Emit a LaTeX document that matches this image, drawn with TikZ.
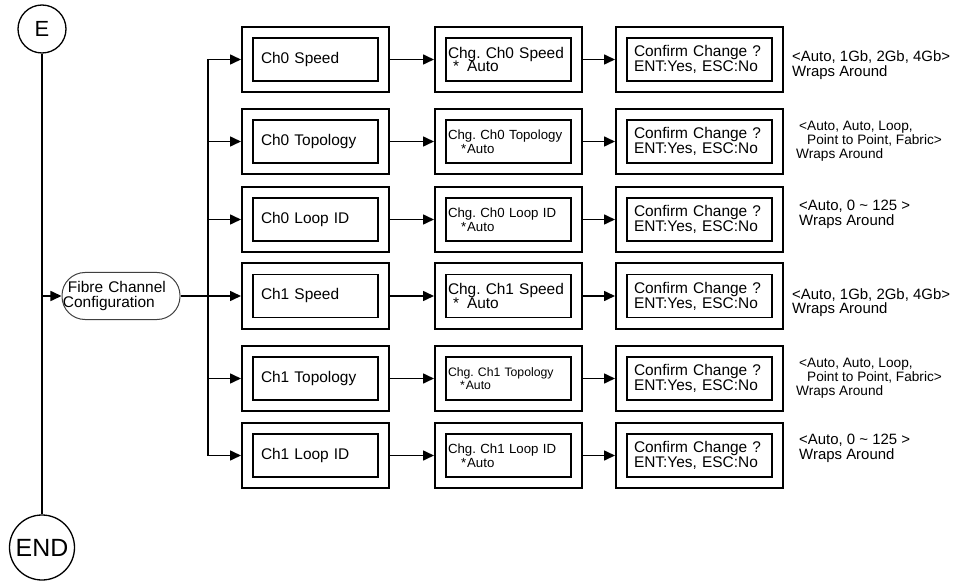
\documentclass[tikz,border=0pt]{standalone}
\usepackage{fontspec}
\setmainfont{Liberation Sans}
\usetikzlibrary{arrows.meta}
\newcommand\fsz[2]{\fontsize{#1}{#2}\selectfont}
\frenchspacing
\begin{document}
\frenchspacing
\begin{tikzpicture}[x=1bp,y=-1bp,
  lcd/.style={draw, line width=1.9bp, double, double distance=9.2bp, fill=white,
    minimum height=54bp, inner ysep=0bp, outer sep=6.5bp, align=left},
  boxa/.style={lcd, text width=109bp, inner xsep=13.5bp, font=\fsz{15.5}{14}},
  boxb/.style={lcd, text width=121bp, inner xsep=7.5bp, font=\fsz{15.5}{14}},
  boxc/.style={lcd, text width=131bp, inner xsep=12.5bp, font=\fsz{15.5}{14}},
  note/.style={anchor=west, align=left, inner sep=0bp},
  conn/.style={line width=1.6bp},
  arr/.style={conn, -{Triangle[length=11bp,width=10bp]}},
  term/.style={draw, circle, line width=1.3bp, inner sep=0bp}
]
\path[use as bounding box] (0,0) rectangle (965,581);

% terminals
\node[term, minimum size=48bp, font=\fsz{22}{22}] (E) at (42,29) {E};
\node[term, minimum size=65bp, font=\fsz{25}{25}] (END) at (42,547.5) {END};

% fibre channel node
\node[draw=black!75, line width=1bp, rounded corners=23bp, minimum width=118bp,
  minimum height=47bp, text width=116bp, inner xsep=1bp, inner ysep=0bp, align=left,
  font=\fsz{15.5}{15.5}] (fc) at (121,296) {\hspace*{5bp}Fibre Channel\\Configuration};

% column 1
\node[boxa] (a1) at (315.5,59.5) {Ch0 Speed};
\node[boxa] (a2) at (315.5,141.5) {Ch0 Topology};
\node[boxa] (a3) at (315.5,219.5) {Ch0 Loop ID};
\node[boxa] (a4) at (315.5,296) {Ch1 Speed};
\node[boxa] (a5) at (315.5,378.5) {Ch1 Topology};
\node[boxa] (a6) at (315.5,455.5) {Ch1 Loop ID};

% column 2
\node[boxb] (b1) at (508.5,59.5) {Chg. Ch0 Speed\\\hspace*{5bp}*\hspace{8bp}Auto};
\node[boxb, font=\fsz{13.3}{14}] (b2) at (508.5,141.5) {Chg. Ch0 Topology\\\hspace*{13bp}*\hspace{1bp}Auto};
\node[boxb, font=\fsz{13.3}{14}] (b3) at (508.5,219.5) {Chg. Ch0 Loop ID\\\hspace*{13bp}*\hspace{1bp}Auto};
\node[boxb] (b4) at (508.5,296) {Chg. Ch1 Speed\\\hspace*{5bp}*\hspace{8bp}Auto};
\node[boxb, font=\fsz{12.3}{13}] (b5) at (508.5,378.5) {Chg. Ch1 Topology\\\hspace*{12bp}*\hspace{1bp}Auto};
\node[boxb, font=\fsz{13.3}{14}] (b6) at (508.5,455.5) {Chg. Ch1 Loop ID\\\hspace*{13bp}*\hspace{1bp}Auto};

% column 3
\node[boxc] (c1) at (699.5,59.5) {Confirm Change ?\\ENT:Yes, ESC:No};
\node[boxc] (c2) at (699.5,141.5) {Confirm Change ?\\ENT:Yes, ESC:No};
\node[boxc] (c3) at (699.5,219.5) {Confirm Change ?\\ENT:Yes, ESC:No};
\node[boxc] (c4) at (699.5,296) {Confirm Change ?\\ENT:Yes, ESC:No};
\node[boxc] (c5) at (699.5,378.5) {Confirm Change ?\\ENT:Yes, ESC:No};
\node[boxc] (c6) at (699.5,455.5) {Confirm Change ?\\ENT:Yes, ESC:No};

% notes
\node[note, font=\fsz{15}{14.5}] (n1) at (792,65) {<Auto, 1Gb, 2Gb, 4Gb>\\Wraps Around};
\node[note, font=\fsz{13.7}{14}] (n2) at (796,141.5) {\hspace*{3bp}<Auto, Auto, Loop,\\\hspace*{11bp}Point to Point, Fabric>\\Wraps Around};
\node[note, font=\fsz{15}{14.5}] (n3) at (799,214.5) {<Auto, 0 \textasciitilde{} 125 >\\Wraps Around};
\node[note, font=\fsz{15}{14.5}] (n4) at (792,302.5) {<Auto, 1Gb, 2Gb, 4Gb>\\Wraps Around};
\node[note, font=\fsz{13.7}{14}] (n5) at (796,378.5) {\hspace*{3bp}<Auto, Auto, Loop,\\\hspace*{11bp}Point to Point, Fabric>\\Wraps Around};
\node[note, font=\fsz{15}{14.5}] (n6) at (799,448.5) {<Auto, 0 \textasciitilde{} 125 >\\Wraps Around};

% connectors
\coordinate (j) at (42,296);
\coordinate (br1) at (208,59.5);
\coordinate (br2) at (208,141.5);
\coordinate (br3) at (208,219.5);
\coordinate (br4) at (208,296);
\coordinate (br5) at (208,378.5);
\coordinate (br6) at (208,455.5);

\draw[conn] (E) -- (END);
\draw[arr] (j) -- (fc);
\draw[conn] (fc) -- (br4);
\draw[conn] (br1) -- (br6);
\foreach \i in {1,...,6}{
  \draw[arr] (br\i) -- (a\i);
  \draw[arr] (a\i) -- (b\i);
  \draw[arr] (b\i) -- (c\i);
}
\end{tikzpicture}
\end{document}
